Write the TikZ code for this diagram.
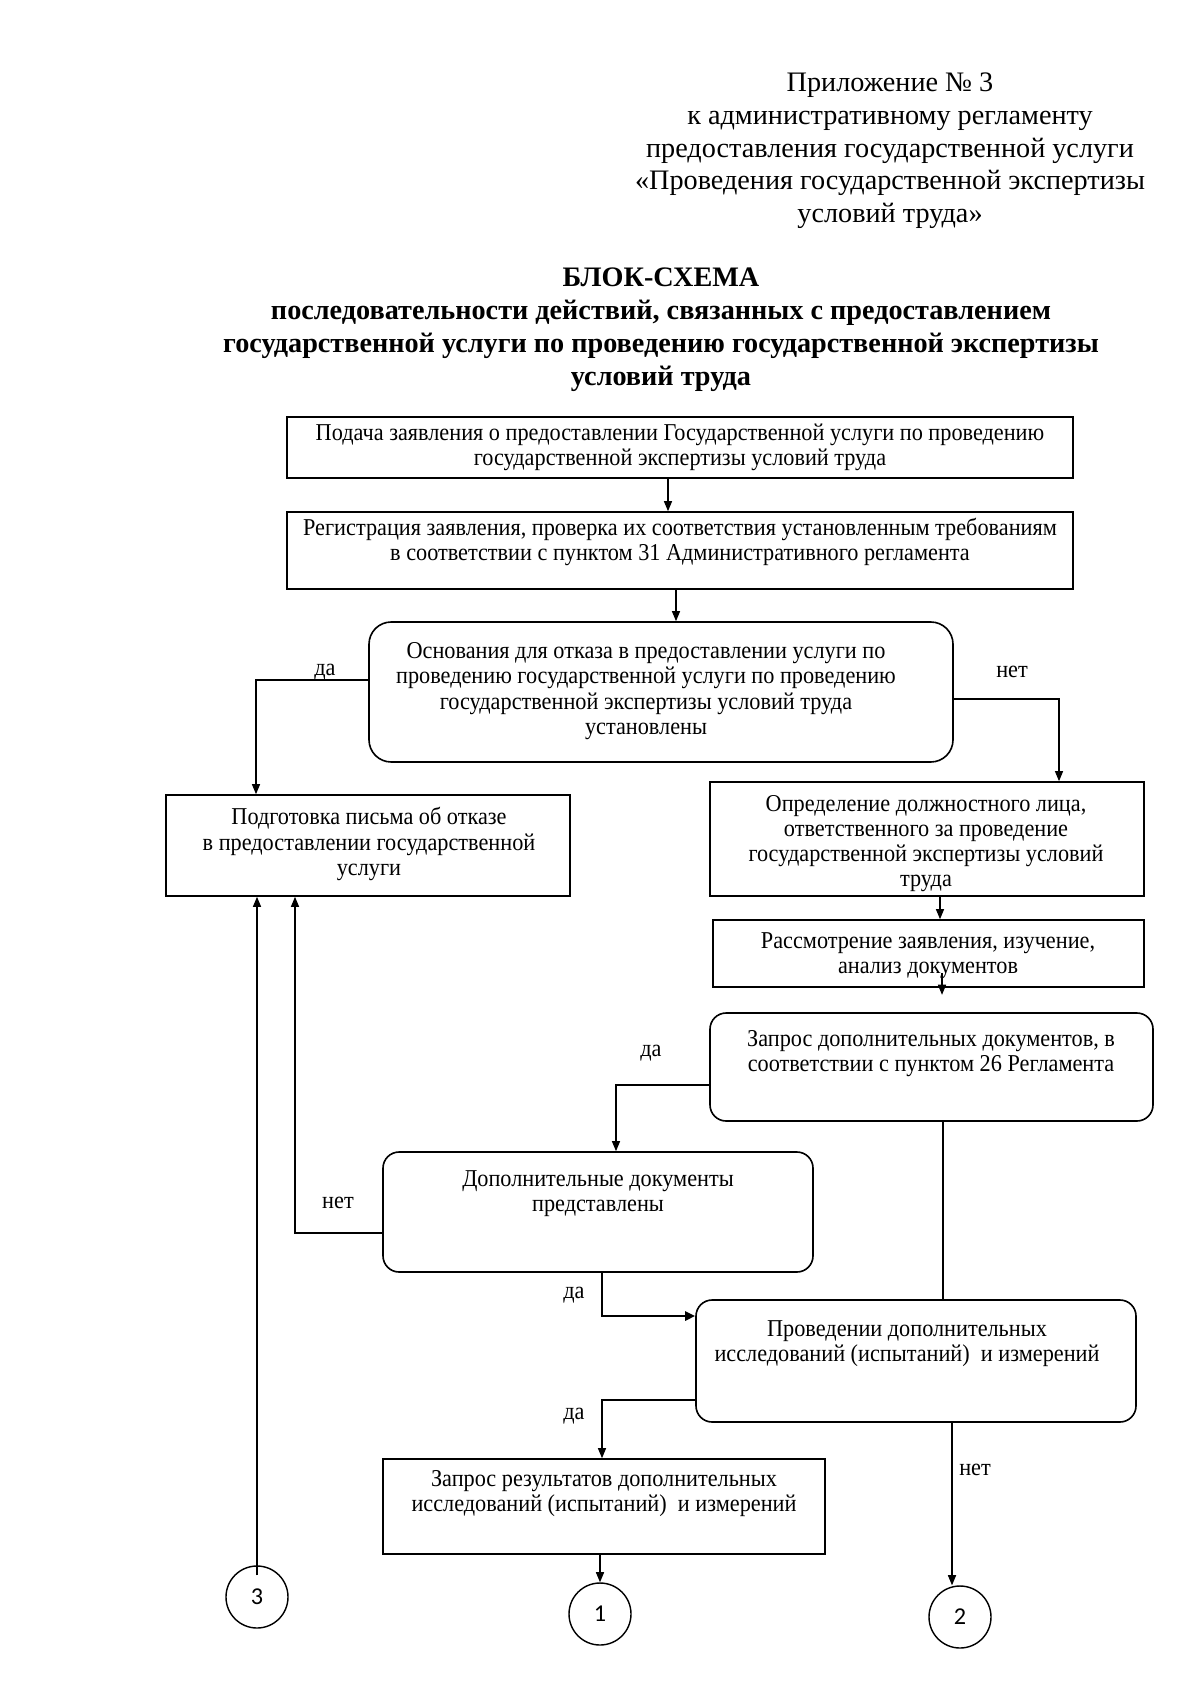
\documentclass[tikz,border=0pt]{standalone}
\usepackage{fontspec}
\setmainfont{Liberation Serif}
\newfontfamily\boxfont[FakeStretch=0.92]{Liberation Serif}
\newfontfamily\numfont{Carlito}
\usetikzlibrary{arrows.meta,calc}
\def\px{0.49606pt}
\tikzset{
  box/.style={draw, line width=0.8pt, inner sep=0pt},
  rbox/.style={box, rounded corners=8pt},
  txt/.style={align=center, inner sep=0pt, font=\boxfont\fontsize{12}{12.5}\selectfont},
  lbl/.style={inner sep=0pt, font=\boxfont\fontsize{12}{12.5}\selectfont},
  circ/.style={draw, circle, line width=0.7pt, minimum size=62*\px, inner sep=0pt, font=\numfont\fontsize{12}{14}\selectfont},
  arr/.style={line width=0.6pt, -{Triangle[length=5pt,width=4pt]}},
  thickarr/.style={line width=1.4pt, -{Triangle[length=5pt,width=4.5pt]}},
  ln/.style={line width=0.6pt}
}
\begin{document}
\begin{tikzpicture}[x=0.49606pt, y=-0.49606pt]
\useasboundingbox (0,0) rectangle (1200,1697);
% header
\node[align=center, inner sep=0pt, font=\fontsize{14}{16.2}\selectfont] (hdr) at (890,151)
  {Приложение № 3\\к административному регламенту\\предоставления государственной услуги\\«Проведения государственной экспертизы\\условий труда»};
\node[align=center, inner sep=0pt, font=\bfseries\fontsize{14}{16.4}\selectfont] (ttl) at (661,330)
  {БЛОК-СХЕМА\\последовательности действий, связанных с предоставлением\\государственной услуги по проведению государственной экспертизы\\условий труда};
% boxes
\node[box, minimum width=786*\px, minimum height=61*\px] (b1) at (680,447.5) {};
\node[txt] (t1) at (680,447.5) {Подача заявления о предоставлении Государственной услуги по проведению\\государственной экспертизы условий труда};
\node[box, minimum width=786*\px, minimum height=77*\px] (b2) at (680,550.5) {};
\node[txt] (t2) at (680,542) {Регистрация заявления, проверка их соответствия установленным требованиям\\в соответствии с пунктом 31 Административного регламента};
\node[box, rounded corners=11pt, minimum width=584*\px, minimum height=140*\px] (d1) at (661,692) {};
\node[txt] (t3) at (646,691) {Основания для отказа в предоставлении услуги по\\проведению государственной услуги по проведению\\государственной экспертизы условий труда\\установлены};
\node[box, minimum width=404*\px, minimum height=101*\px] (podg) at (368,845.5) {};
\node[txt] (t4) at (369,844) {Подготовка письма об отказе\\в предоставлении государственной\\услуги};
\node[box, minimum width=434*\px, minimum height=114*\px] (opred) at (927,839) {};
\node[txt] (t5) at (926,843.5) {Определение должностного лица,\\ответственного за проведение\\государственной экспертизы условий\\труда};
\node[box, minimum width=431*\px, minimum height=67*\px] (rassm) at (928.5,953.5) {};
\node[txt] (t6) at (928,956) {Рассмотрение заявления, изучение,\\анализ документов};
\node[rbox, minimum width=443*\px, minimum height=108*\px] (zd) at (931.5,1067) {};
\node[txt] (t7) at (931,1053.5) {Запрос дополнительных документов, в\\соответствии с пунктом 26 Регламента};
\node[rbox, minimum width=430*\px, minimum height=120*\px] (dd) at (598,1212) {};
\node[txt] (t8) at (598,1193.5) {Дополнительные документы\\представлены};
\node[rbox, minimum width=440*\px, minimum height=122*\px] (prov) at (916,1361) {};
\node[txt] (t9) at (907,1343.5) {Проведении дополнительных\\исследований (испытаний)\ \ и измерений};
\node[box, minimum width=442*\px, minimum height=95*\px] (zr) at (604,1506.5) {};
\node[txt] (t10) at (604,1493.5) {Запрос результатов дополнительных\\исследований (испытаний)\ \ и измерений};
% circles
\node[circ] (c3) at (257,1597) {3};
\node[circ] (c1) at (600,1614) {1};
\node[circ] (c2) at (960,1617) {2};
% labels
\node[lbl] (l1) at (325,672) {да};
\node[lbl] (l2) at (1012,672) {нет};
\node[lbl] (l3) at (651,1053) {да};
\node[lbl] (l4) at (338,1203) {нет};
\node[lbl] (l5) at (574,1295) {да};
\node[lbl] (l6) at (574,1416) {да};
\node[lbl] (l7) at (975,1470) {нет};
% connectors
\coordinate (p1) at ($(b1.south)+(-12,0)$);
\draw[arr] (p1) -- (p1 |- b2.north);
\coordinate (p2) at ($(b2.south)+(-4,0)$);
\draw[arr] (p2) -- (p2 |- d1.north);
\draw[arr] ($(d1.west)+(0,-12)$) -| ($(podg.north)+(-112,0)$);
\draw[arr] ($(d1.east)+(0,7)$) -| ($(opred.north)+(132,0)$);
\coordinate (p5) at ($(opred.south)+(13,0)$);
\draw[arr] (p5) -- (p5 |- rassm.north);
\draw[arr] ($(rassm.south)+(13.5,-15)$) -- ($(rassm.south)+(13.5,7)$);
\draw[arr] ($(zd.west)+(0,18)$) -| ($(dd.north)+(18,0)$);
\coordinate (p8) at ($(zd.south)+(11.5,0)$);
\draw[ln] (p8) -- (p8 |- prov.north);
\draw[arr] ($(dd.west)+(0,21)$) -| ($(podg.south)+(-73,0)$);
\draw[thickarr] ($(dd.south)+(4,0)$) |- ($(prov.west)+(0,-45)$);
\draw[arr] ($(prov.west)+(0,39)$) -| ($(zr.north)+(-2,0)$);
\coordinate (p12) at ($(prov.south)+(36,0)$);
\draw[arr] (p12) -- (p12 |- c2.north);
\draw[arr] (c1.north |- zr.south) -- (c1.north);
\draw[arr] ($(c3.north)+(0,10)$) -- (c3.north |- podg.south);
\end{tikzpicture}
\end{document}
